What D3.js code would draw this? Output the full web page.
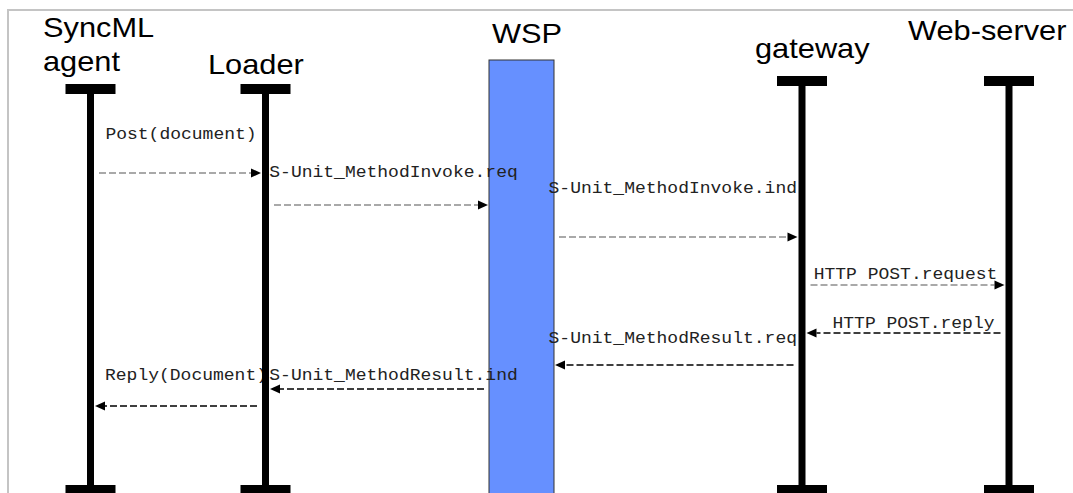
<!DOCTYPE html>
<html>
<head>
<meta charset="utf-8">
<script src="https://cdn.jsdelivr.net/npm/d3@7"></script>
<style>
  body { margin: 0; background: #fff; overflow: hidden; }
  .head { font-family: "Liberation Sans", Arial, sans-serif; font-size: 27px; fill: #000; }
  .msg { font-family: "Liberation Mono", "Courier New", monospace; font-size: 17px; fill: #222; }
</style>
</head>
<body>
<div id="chart"></div>
<script>
// participants, left to right
var participants = ["SyncML agent", "Loader", "WSP", "gateway", "Web-server"];
var headerLines = [["SyncML", "agent"], ["Loader"], ["WSP"], ["gateway"], ["Web-server"]];

// messages, in time order
var msgFrom = ["SyncML agent", "Loader", "WSP", "gateway", "Web-server", "gateway", "WSP", "Loader"];
var msgTo = ["Loader", "WSP", "gateway", "Web-server", "gateway", "WSP", "Loader", "SyncML agent"];
var msgLabels = ["Post(document)", "S-Unit_MethodInvoke.req", "S-Unit_MethodInvoke.ind",
  "HTTP POST.request", "HTTP POST.reply", "S-Unit_MethodResult.req",
  "S-Unit_MethodResult.ind", "Reply(Document)"];
// time of each arrow and of its label on the diagram's time axis
var msgTimes = [113, 145, 177, 225, 273, 305, 329, 346];
var labelTimes = [79, 117, 133, 219, 268, 283, 320, 320];

var width = 1073, height = 493;

var svg = d3.select("#chart").append("svg")
  .attr("width", width)
  .attr("height", height);

// lanes
var x = d3.scaleOrdinal()
  .domain(participants)
  .range([90.5, 265.5, 521.5, 802, 1009]);

// time axis runs down from the top of the WSP box
var y = d3.scaleLinear()
  .domain([0, 433])
  .range([60, 493]);

// half width of each lane (lifeline or box)
var halfW = function(p) { return p === "WSP" ? 32.5 : 3.5; };

// header layout: offset from lane, baseline of first line, top of the crossbar
var headLayout = {
  "SyncML agent": { dx: -47.5, base: 37, bar: 84 },
  "Loader":       { dx: -57.5, base: 74, bar: 84 },
  "WSP":          { dx: -29.5, base: 43, bar: null },
  "gateway":      { dx: -47,   base: 58, bar: 76 },
  "Web-server":   { dx: -101,  base: 40, bar: 76 }
};
var textSX = 1.14, monoSX = 1.06;
// labels sit a little right of the midpoint between lanes
var labelNudge = [3, 0, 11, 0, 8, 11, 0, 8];

// frame
svg.append("path")
  .attr("d", "M8," + (height + 5) + "V10H" + (width + 5))
  .attr("fill", "none")
  .attr("stroke", "#c4c4c4")
  .attr("stroke-width", 2);

// WSP box
svg.append("rect")
  .attr("x", x("WSP") - halfW("WSP"))
  .attr("y", y(0))
  .attr("width", halfW("WSP") * 2)
  .attr("height", height)
  .attr("fill", "#6690ff")
  .attr("stroke", "#333")
  .attr("stroke-width", 1);

// header labels
participants.forEach(function(p, i) {
  var L = headLayout[p];
  headerLines[i].forEach(function(line, j) {
    svg.append("text")
      .attr("class", "head")
      .attr("transform", "translate(" + (x(p) + L.dx) + "," + (L.base + j * 34) + ") scale(" + textSX + ",1)")
      .text(line);
  });
});

// message labels, centred between the two lanes
msgLabels.forEach(function(label, i) {
  var cx = (x(msgFrom[i]) + x(msgTo[i])) / 2 + labelNudge[i];
  svg.append("text")
    .attr("class", "msg")
    .attr("text-anchor", "middle")
    .attr("transform", "translate(" + cx + "," + y(labelTimes[i]) + ") scale(" + monoSX + ",1)")
    .text(label);
});

// lifelines with crossbars at top and bottom
participants.filter(function(p) { return headLayout[p].bar !== null; }).forEach(function(p) {
  var top = headLayout[p].bar;
  svg.append("line")
    .attr("x1", x(p)).attr("x2", x(p))
    .attr("y1", top).attr("y2", 490)
    .attr("stroke", "#000")
    .attr("stroke-width", 7);
  [top, 485].forEach(function(by) {
    svg.append("rect")
      .attr("x", x(p) - 25)
      .attr("y", by)
      .attr("width", 50)
      .attr("height", 10)
      .attr("fill", "#000");
  });
});

// arrows
msgLabels.forEach(function(label, i) {
  var from = msgFrom[i], to = msgTo[i];
  var dir = x(to) > x(from) ? 1 : -1;
  var x0 = x(from) + dir * (halfW(from) + 5);
  var x1 = x(to) - dir * (halfW(to) + 1);
  var yy = y(msgTimes[i]);
  var reply = dir < 0;
  var head = 10;
  svg.append("line")
    .attr("x1", x0).attr("x2", x1 - dir * head)
    .attr("y1", yy).attr("y2", yy)
    .attr("stroke", reply ? "#000" : "#555")
    .attr("stroke-width", reply ? 1.5 : 1.2)
    .attr("stroke-dasharray", "7,3");
  svg.append("path")
    .attr("d", "M" + x1 + "," + yy + "L" + (x1 - dir * head) + "," + (yy - 4.5) + "L" + (x1 - dir * head) + "," + (yy + 4.5) + "Z")
    .attr("fill", "#000");
});
</script>
</body>
</html>
